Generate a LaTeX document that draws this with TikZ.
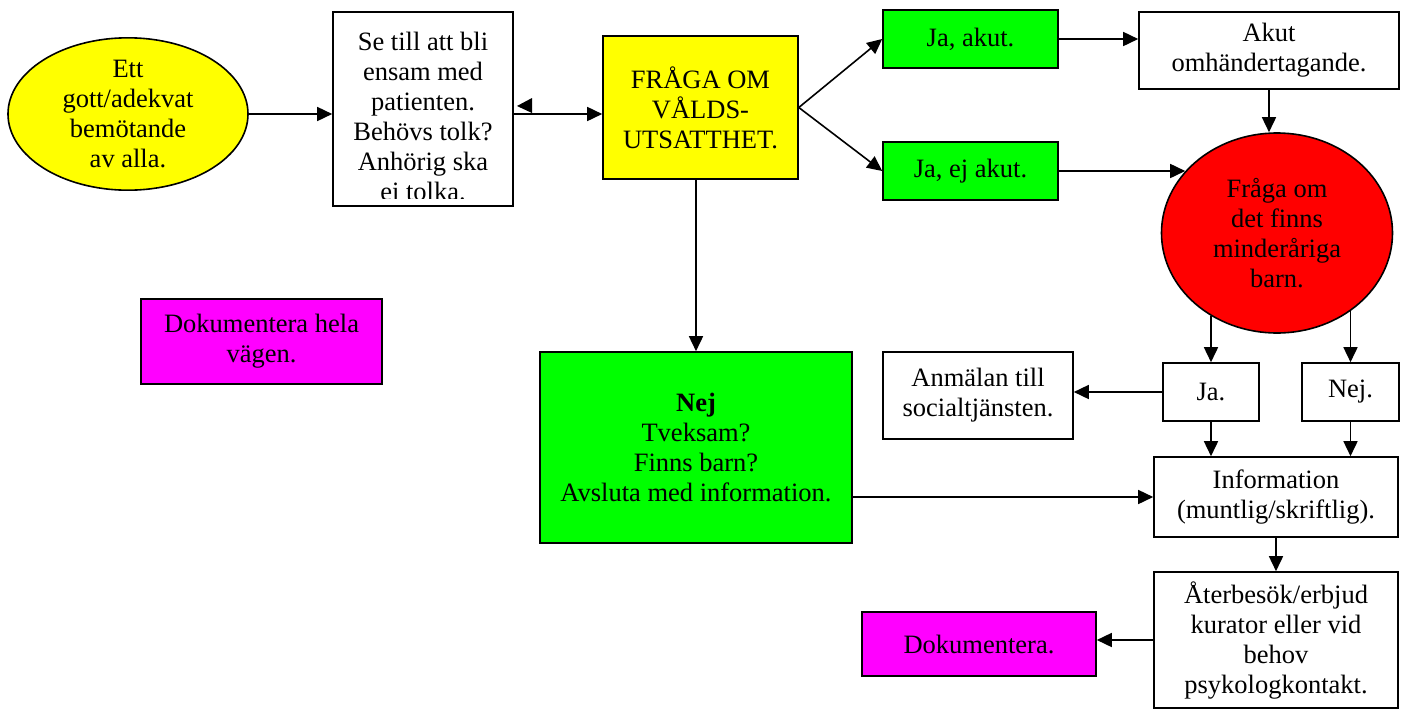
\documentclass[tikz,border=0pt]{standalone}
\usepackage{fontspec}
\setmainfont{Liberation Serif}
\usetikzlibrary{arrows.meta,shapes.geometric}
\tikzset{
  box/.style={draw=black, line width=1.6pt, align=center, inner sep=0pt, font=\fontsize{26.5}{30}\selectfont},
  oval/.style={box, ellipse},
  conn/.style={line width=1.6pt, -{Triangle[length=15pt,width=14pt]}},
}
\definecolor{ylw}{RGB}{255,255,0}
\definecolor{grn}{RGB}{0,255,0}
\definecolor{mag}{RGB}{255,0,255}
\definecolor{rd}{RGB}{255,0,0}
\begin{document}
\begin{tikzpicture}[x=1pt,y=-1pt]
\useasboundingbox (0,0) rectangle (1406,710);
% nodes
\node[oval, fill=ylw, minimum width=240pt, minimum height=152pt] (yel) at (128,114) {Ett\\gott/adekvat\\bemötande\\av alla.};
\node[box, minimum width=180pt, minimum height=194pt] (box2) at (423,109) {};
\begin{scope}
  \clip (334,13) rectangle (512,198);
  \node[align=center, inner sep=0pt, font=\fontsize{26.5}{30}\selectfont] (box2txt) at (423,116) {Se till att bli\\ensam med\\patienten.\\Behövs tolk?\\Anhörig ska\\ei tolka.};
\end{scope}
\node[box, fill=ylw, minimum width=195pt, minimum height=143pt] (fraga) at (700.5,107.5) {FRÅGA OM\\VÅLDS-\\UTSATTHET.};
\node[box, fill=grn, minimum width=175pt, minimum height=58pt] (jaak) at (970.5,39) {Ja, akut.};
\node[box, fill=grn, minimum width=175pt, minimum height=58pt] (jaej) at (970.5,171) {Ja, ej akut.};
\node[box, minimum width=260pt, minimum height=77pt] (akut) at (1269,50.5) {Akut\\omhändertagande.};
\node[oval, fill=rd, minimum width=231pt, minimum height=200pt] (red) at (1277,233) {Fråga om\\det finns\\minderåriga\\barn.};
\node[box, minimum width=96pt, minimum height=58pt] (ja) at (1211,392) {Ja.};
\node[box, minimum width=97pt, minimum height=58pt] (nejs) at (1350.5,392) {Nej.};
\node[box, minimum width=190pt, minimum height=87pt] (anm) at (978,395.5) {Anmälan till\\socialtjänsten.};
\node[box, fill=grn, minimum width=312pt, minimum height=191pt] (nej) at (696,447.5) {\textbf{Nej}\\Tveksam?\\Finns barn?\\Avsluta med information.};
\node[box, minimum width=244pt, minimum height=80pt] (info) at (1276,497) {Information\\(muntlig/skriftlig).};
\node[box, minimum width=244pt, minimum height=136pt] (aterb) at (1276,640) {Återbesök/erbjud\\kurator eller vid\\behov\\psykologkontakt.};
\node[box, fill=mag, minimum width=234pt, minimum height=64pt] (dok) at (979,644) {Dokumentera.};
\node[box, fill=mag, minimum width=241pt, minimum height=85pt] (dokh) at (261.5,341.5) {Dokumentera hela\\vägen.};
% connectors
\draw[conn] (yel.east) -- (yel.east -| box2.west);
\draw[conn] (yel.east -| box2.east) -- (yel.east -| fraga.west);
\fill (517,106) -- (532,98) -- (532,113) -- cycle;
\draw[conn] (fraga.east) -- (jaak.west);
\draw[conn] (fraga.east) -- (jaej.west);
\draw[conn] (jaak.east) -- (jaak.east -| akut.west);
\draw[conn] (jaej.east) -- (jaej.east -| red.146);
\draw[conn] (akut.south) -- (akut.south |- red.north);
\draw[conn] (ja.north |- red.231) -- (ja.north);
\draw[conn] (nejs.north |- red.314) -- (nejs.north);
\draw[conn] (ja.west) -- (ja.west -| anm.east);
\draw[conn] (ja.south) -- (ja.south |- info.north);
\draw[conn] (nejs.south) -- (nejs.south |- info.north);
\draw[conn] (fraga.south -| nej.north) -- (nej.north);
\draw[conn] (nej.east |- info.west) -- (info.west);
\draw[conn] (info.south) -- (aterb.north);
\draw[conn] (aterb.west) -- (aterb.west -| dok.east);
\end{tikzpicture}
\end{document}
